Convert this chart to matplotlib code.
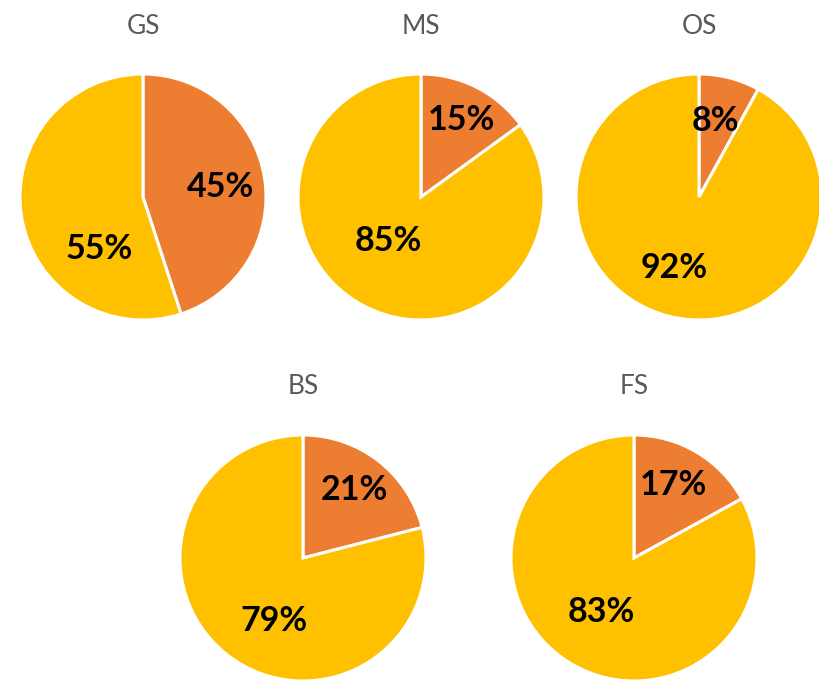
import matplotlib
matplotlib.use("Agg")
import matplotlib.pyplot as plt

# data
names = ["GS", "MS", "OS", "BS", "FS"]
orange_pct = [45, 15, 8, 21, 17]
yellow_pct = [55, 85, 92, 79, 83]

# layout (pixels in an 819x680 canvas): pie centres, title rows and label spots
W, H = 819, 680
R = 123
centers = [(143, 197), (421, 197), (699, 197), (303, 558), (634, 558)]
title_y = [27, 27, 27, 387, 387]
orange_pos = [(0.63, 0.08), (0.33, 0.63), (0.13, 0.62), (0.42, 0.55), (0.32, 0.59)]
yellow_pos = [(-0.36, -0.42), (-0.27, -0.36), (-0.2, -0.58), (-0.24, -0.51), (-0.27, -0.44)]

colors = ["#ED7D31", "#FFC000"]

plt.rcParams["font.family"] = ["Lato", "DejaVu Sans"]

fig = plt.figure(figsize=(W / 100, H / 100), dpi=100)

for i, name in enumerate(names):
    cx, cy = centers[i]
    ax = fig.add_axes([(cx - R) / W, (H - cy - R) / H, 2 * R / W, 2 * R / H])
    ax.pie(
        [orange_pct[i], yellow_pct[i]],
        colors=colors,
        startangle=90,
        counterclock=False,
        radius=1,
        wedgeprops={"edgecolor": "white", "linewidth": 2.2},
    )
    ax.set_xlim(-1, 1)
    ax.set_ylim(-1, 1)
    ax.set_aspect("equal")
    ax.axis("off")
    for pos, val in ((orange_pos[i], orange_pct[i]), (yellow_pos[i], yellow_pct[i])):
        ax.text(pos[0], pos[1], f"{val}%", ha="center", va="center",
                fontsize=24.5, fontweight="bold", color="black")
    fig.text(cx / W, 1 - title_y[i] / H, name, ha="center", va="center",
             fontsize=19, color="#595959")

fig.savefig("out.png", dpi=100)
